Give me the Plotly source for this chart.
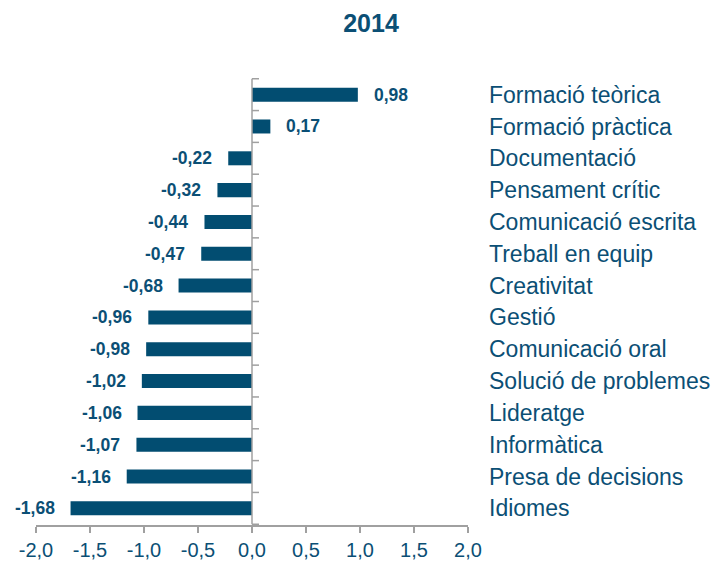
import plotly.graph_objects as go

categories = ["Formació teòrica", "Formació pràctica", "Documentació", "Pensament crític",
              "Comunicació escrita", "Treball en equip", "Creativitat", "Gestió",
              "Comunicació oral", "Solució de problemes", "Lideratge", "Informàtica",
              "Presa de decisions", "Idiomes"]
values = [0.98, 0.17, -0.22, -0.32, -0.44, -0.47, -0.68, -0.96, -0.98, -1.02, -1.06, -1.07, -1.16, -1.68]
x_ticks = [-2.0, -1.5, -1.0, -0.5, 0.0, 0.5, 1.0, 1.5, 2.0]
x_ticklabels = [f"{v:.1f}".replace(".", ",") for v in x_ticks]

BAR = "#024d71"
TXT = "#0b4f75"
GRAY = "#a0a0a0"
FONT = "Liberation Sans, Arial"

# page body has an 8px margin; figure is sized so that it fills the 722x563 window
W, H = 714, 555
OFF = 8

fig = go.Figure(go.Bar(
    x=values, y=categories, orientation="h",
    marker=dict(color=BAR, line=dict(width=0)),
    hoverinfo="skip",
))

annotations = []
for c, v in zip(categories, values):
    annotations.append(dict(
        x=v, y=c, xref="x", yref="y",
        text=f"<b>{v:.2f}</b>".replace(".", ","),
        showarrow=False,
        xanchor="left" if v >= 0 else "right",
        xshift=14 if v >= 0 else -14,
        font=dict(family=FONT, size=17.5, color=TXT),
    ))

shapes = [dict(type="line", xref="x", yref="y", x0=0, x1=0, y0=-0.5, y1=len(categories) - 0.5,
               line=dict(color=GRAY, width=1.5), layer="above")]
for i in range(len(categories) + 1):
    yb = i - 0.5
    shapes.append(dict(type="line", xref="x", yref="y", x0=0, x1=0.065, y0=yb, y1=yb,
                       line=dict(color=GRAY, width=1.5), layer="above"))

fig.update_layout(
    width=W, height=H,
    margin=dict(l=36 - OFF, r=722 - 468, t=78 - OFF, b=563 - 525),
    paper_bgcolor="white", plot_bgcolor="white",
    title=dict(text="<b>2014</b>", x=(371 - OFF) / W, xanchor="center", y=1 - (23 - OFF) / H,
               yanchor="middle",
               font=dict(family=FONT, size=25, color=TXT)),
    bargap=0.56,
    showlegend=False,
    annotations=annotations,
    shapes=shapes,
    xaxis=dict(range=[-2, 2], tickvals=x_ticks, ticktext=x_ticklabels,
               showgrid=False, zeroline=False, showline=True, linecolor=GRAY, linewidth=1.5,
               ticks="outside", ticklen=6, tickwidth=1.5, tickcolor=GRAY,
               tickfont=dict(family=FONT, size=20, color=TXT),
               automargin=False, fixedrange=True),
    yaxis=dict(categoryorder="array", categoryarray=categories, autorange="reversed",
               side="right", showgrid=False, zeroline=False, showline=False, ticks="",
               ticklabelstandoff=20,
               tickfont=dict(family=FONT, size=23, color=TXT),
               automargin=False, fixedrange=True),
)

fig.write_html("out.html")
